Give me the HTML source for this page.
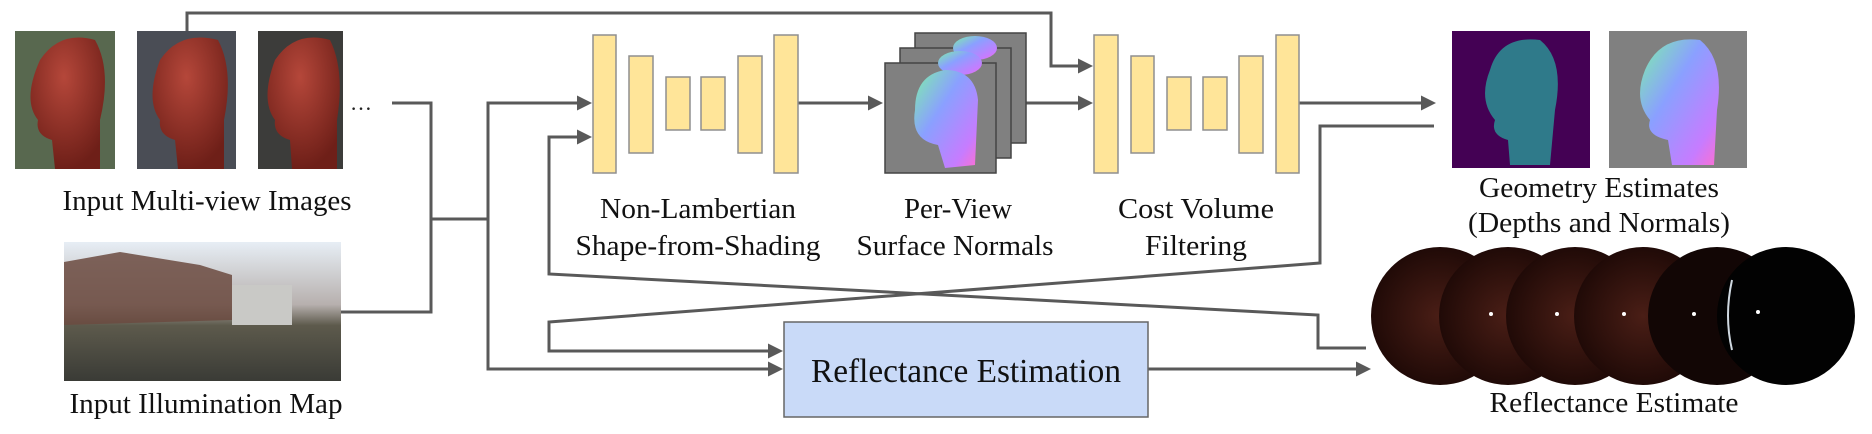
<!DOCTYPE html>
<html><head><meta charset="utf-8"><style>html,body{margin:0;padding:0;background:#fff}svg{display:block}</style></head>
<body>
<svg width="1872" height="434" viewBox="0 0 1872 434" xmlns="http://www.w3.org/2000/svg">
<defs>
<marker id="ah" markerWidth="5" markerHeight="5" refX="4" refY="2.5" orient="auto-start-reverse" markerUnits="strokeWidth"><path d="M0,0 L5,2.5 L0,5 z" fill="#595959"/></marker>
<radialGradient id="head" cx="0.45" cy="0.3" r="0.7"><stop offset="0" stop-color="#b5473a"/><stop offset="1" stop-color="#6e1f18"/></radialGradient>
<linearGradient id="nrm" x1="0" y1="0" x2="1" y2="1"><stop offset="0" stop-color="#7ef0a8"/><stop offset="0.4" stop-color="#8aa0ff"/><stop offset="0.8" stop-color="#c67cff"/><stop offset="1" stop-color="#ff6fd0"/></linearGradient>
<radialGradient id="sph" cx="0.5" cy="0.5" r="0.5"><stop offset="0" stop-color="#4a1e16"/><stop offset="1" stop-color="#200a07"/></radialGradient>
<linearGradient id="sky" x1="0" y1="0" x2="0" y2="1"><stop offset="0" stop-color="#e7eef5"/><stop offset="0.45" stop-color="#b7b0ae"/><stop offset="0.6" stop-color="#5d5a4c"/><stop offset="1" stop-color="#3a3b36"/></linearGradient>
</defs>
<g fill="none" stroke="#595959" stroke-width="3">
<polyline points="187,31 187,13 1051,13 1051,66 1090,66" marker-end="url(#ah)"/>
<polyline points="392,103 431,103 431,312 341,312"/>
<polyline points="431,219 488,219"/>
<polyline points="589,103 488,103 488,369 780,369" marker-start="url(#ah)" marker-end="url(#ah)"/>
<polyline points="589,137 549,137 549,274 1318,315 1318,348 1366,348" marker-start="url(#ah)"/>
<polyline points="1434,126 1320,126 1320,263 549,322 549,351 780,351" marker-end="url(#ah)"/>
<line x1="798" y1="103" x2="880" y2="103" marker-end="url(#ah)"/>
<line x1="1026" y1="103" x2="1090" y2="103" marker-end="url(#ah)"/>
<line x1="1299" y1="103" x2="1433" y2="103" marker-end="url(#ah)"/>
<line x1="1148" y1="369" x2="1368" y2="369" marker-end="url(#ah)"/>
</g>
<rect x="15" y="31" width="100" height="138" fill="#58684f"/>
<rect x="137" y="31" width="99" height="138" fill="#4a4d55"/>
<rect x="258" y="31" width="85" height="138" fill="#3c3c3a"/>
<g fill="url(#head)">
<path d="M40,60 Q60,30 95,40 Q112,70 100,120 L100,169 L55,169 L52,140 Q35,135 38,120 Q22,100 40,60z"/>
<path d="M160,60 Q180,30 218,40 Q234,70 224,120 L224,169 L178,169 L175,140 Q158,135 160,120 Q145,100 160,60z"/>
<path d="M275,60 Q295,30 330,40 Q345,70 337,120 L337,169 L292,169 L290,140 Q273,135 275,120 Q260,100 275,60z"/>
</g>
<text x="350" y="110" font-family="Liberation Serif,serif" font-size="22" fill="#222">…</text>
<rect x="64" y="242" width="277" height="139" fill="url(#sky)"/>
<path d="M64,262 L120,252 L200,265 L232,275 L232,320 L64,325z" fill="#6b4a40" opacity="0.85"/>
<rect x="232" y="285" width="60" height="40" fill="#c9c9c6"/>
<g fill="#ffe599" stroke="#8f8f8f" stroke-width="1.5">
<rect x="593" y="35" width="23" height="138"/><rect x="629" y="56" width="24" height="97"/>
<rect x="666" y="77" width="24" height="53"/><rect x="701" y="77" width="24" height="53"/>
<rect x="738" y="56" width="24" height="97"/><rect x="774" y="35" width="24" height="138"/>
<rect x="1094" y="35" width="24" height="138"/><rect x="1131" y="56" width="23" height="97"/>
<rect x="1167" y="77" width="24" height="53"/><rect x="1203" y="77" width="24" height="53"/>
<rect x="1239" y="56" width="24" height="97"/><rect x="1276" y="35" width="23" height="138"/>
</g>
<g stroke="#444" stroke-width="1.5" fill="#808080">
<rect x="915" y="33" width="111" height="110"/><rect x="900" y="48" width="111" height="110"/><rect x="885" y="63" width="111" height="110"/>
</g>
<ellipse cx="975" cy="48" rx="22" ry="12" fill="url(#nrm)"/>
<ellipse cx="960" cy="63" rx="22" ry="12" fill="url(#nrm)"/>
<path d="M915,110 Q915,75 945,70 Q975,70 978,100 L975,165 L945,168 L938,145 Q910,140 915,110z" fill="url(#nrm)"/>
<rect x="1452" y="31" width="138" height="137" fill="#440154"/>
<path d="M1490,70 Q1500,35 1540,40 Q1565,60 1555,110 L1550,165 L1510,165 L1508,140 Q1490,135 1495,120 Q1478,100 1490,70z" fill="#2f7a8a"/>
<rect x="1609" y="31" width="138" height="137" fill="#808080"/>
<path d="M1645,70 Q1660,35 1700,40 Q1725,60 1717,110 L1714,165 L1672,165 L1668,140 Q1645,135 1650,120 Q1633,100 1645,70z" fill="url(#nrm)"/>
<g fill="url(#sph)">
<circle cx="1440" cy="316" r="69"/><circle cx="1508" cy="316" r="69"/><circle cx="1575" cy="316" r="69"/><circle cx="1643" cy="316" r="69"/>
<circle cx="1717" cy="316" r="69" fill="#120605"/><circle cx="1786" cy="316" r="69" fill="#020202"/>
</g>
<g fill="#fff"><circle cx="1491" cy="314" r="2"/><circle cx="1557" cy="314" r="2"/><circle cx="1624" cy="314" r="2"/><circle cx="1694" cy="314" r="2"/><circle cx="1758" cy="312" r="2"/></g>
<path d="M1732,280 Q1724,316 1732,350" stroke="#cfd8e0" stroke-width="2" fill="none"/>
<rect x="784" y="322" width="364" height="95" fill="#c9daf8" stroke="#666" stroke-width="1.5"/>
<g font-family="Liberation Serif,serif" fill="#111" text-anchor="middle">
<text x="966" y="382" font-size="34" textLength="310" lengthAdjust="spacingAndGlyphs">Reflectance Estimation</text>
<text x="207" y="210" font-size="28" textLength="289" lengthAdjust="spacingAndGlyphs">Input Multi-view Images</text>
<text x="206" y="413" font-size="28" textLength="273" lengthAdjust="spacingAndGlyphs">Input Illumination Map</text>
<text x="698" y="218" font-size="28" textLength="196" lengthAdjust="spacingAndGlyphs">Non-Lambertian</text>
<text x="698" y="255" font-size="28" textLength="245" lengthAdjust="spacingAndGlyphs">Shape-from-Shading</text>
<text x="958" y="218" font-size="28" textLength="108" lengthAdjust="spacingAndGlyphs">Per-View</text>
<text x="955" y="255" font-size="28" textLength="197" lengthAdjust="spacingAndGlyphs">Surface Normals</text>
<text x="1196" y="218" font-size="28" textLength="156" lengthAdjust="spacingAndGlyphs">Cost Volume</text>
<text x="1196" y="255" font-size="28" textLength="102" lengthAdjust="spacingAndGlyphs">Filtering</text>
<text x="1599" y="197" font-size="28" textLength="240" lengthAdjust="spacingAndGlyphs">Geometry Estimates</text>
<text x="1599" y="232" font-size="28" textLength="262" lengthAdjust="spacingAndGlyphs">(Depths and Normals)</text>
<text x="1614" y="412" font-size="28" textLength="249" lengthAdjust="spacingAndGlyphs">Reflectance Estimate</text>
</g>
</svg>
</body></html>
